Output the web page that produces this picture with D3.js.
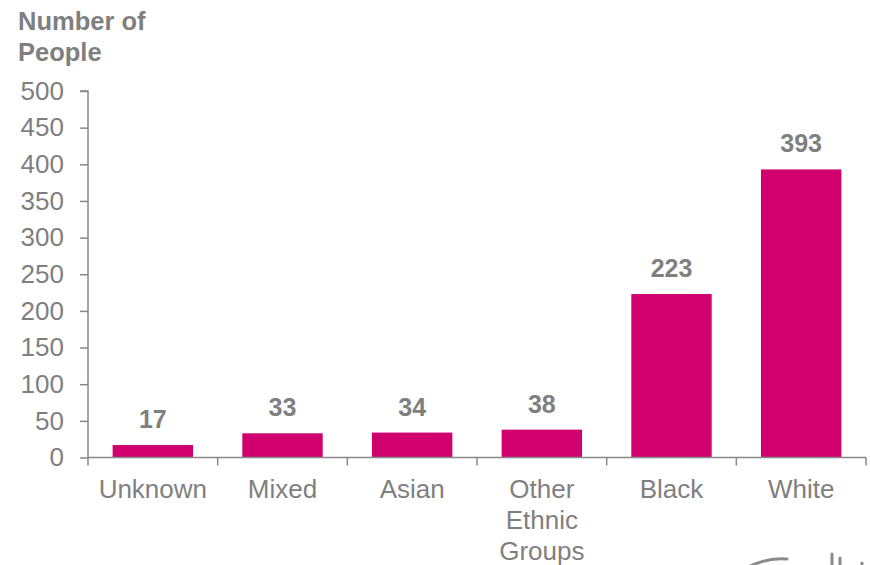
<!DOCTYPE html>
<html><head><meta charset="utf-8">
<script src="https://cdn.jsdelivr.net/npm/d3@7"></script>
<style>body{margin:0;background:#fff}svg{display:block}</style>
</head><body>
<svg id="c" width="870" height="565"></svg>
<script>
const categories = ["Unknown", "Mixed", "Asian", "Other Ethnic Groups", "Black", "White"];
const categoryLines = [["Unknown"], ["Mixed"], ["Asian"], ["Other", "Ethnic", "Groups"], ["Black"], ["White"]];
const values = [17, 33, 34, 38, 223, 393];
const yTicks = [0, 50, 100, 150, 200, 250, 300, 350, 400, 450, 500];

const svg = d3.select("#c");
const gray = "#7f7f7f";
const font = "'Liberation Sans', Arial, sans-serif";
const x = d3.scaleBand().domain(categories).range([88, 866]).paddingInner(0.38).paddingOuter(0.19);
const y = d3.scaleLinear().domain([0, 500]).range([457.5, 91]);

// title
svg.append("text").attr("x", 18).attr("y", 30).attr("font-family", font).attr("font-size", 25.5)
  .attr("font-weight", "bold").attr("fill", gray).text("Number of");
svg.append("text").attr("x", 18).attr("y", 61).attr("font-family", font).attr("font-size", 25.5)
  .attr("font-weight", "bold").attr("fill", gray).text("People");

// bars
svg.selectAll("rect.bar").data(values).enter().append("rect")
  .attr("x", (d, i) => x(categories[i])).attr("width", x.bandwidth())
  .attr("y", d => y(d)).attr("height", d => y(0) - y(d)).attr("fill", "#d0006f");

// value labels
svg.selectAll("text.val").data(values).enter().append("text")
  .attr("x", (d, i) => x(categories[i]) + x.bandwidth() / 2).attr("y", d => y(d) - 17)
  .attr("text-anchor", "middle").attr("font-family", font).attr("font-size", 25)
  .attr("font-weight", "bold").attr("fill", gray).text(d => d);

// y axis
const ya = svg.append("g").attr("transform", "translate(88,0)")
  .call(d3.axisLeft(y).tickValues(yTicks).tickSize(8).tickPadding(16));
ya.selectAll("text").attr("font-family", font).attr("font-size", 26).attr("fill", gray);
ya.selectAll("line").attr("stroke", "#888").attr("stroke-width", 1.5);
ya.select(".domain").attr("stroke", "#888").attr("stroke-width", 1.5).attr("d", "M-8,91H0V457.5");

// x axis
const xa = svg.append("g").attr("transform", "translate(0,457.5)");
xa.append("line").attr("x1", 88).attr("x2", 866).attr("stroke", "#888").attr("stroke-width", 1.5);
const bounds = d3.range(categories.length + 1).map(i => 88 + i * (778 / categories.length));
xa.selectAll("line.tk").data(bounds).enter().append("line")
  .attr("x1", d => d).attr("x2", d => d).attr("y1", 0).attr("y2", 8)
  .attr("stroke", "#888").attr("stroke-width", 1.5);
categories.forEach((c, i) => {
  const t = xa.append("text").attr("x", x(c) + x.bandwidth() / 2).attr("y", 40)
    .attr("text-anchor", "middle").attr("font-family", font).attr("font-size", 26).attr("fill", gray);
  categoryLines[i].forEach((ln, j) => {
    t.append("tspan").attr("x", x(c) + x.bandwidth() / 2).attr("dy", j === 0 ? 0 : 31).text(ln);
  });
});

// partial logo at bottom right
svg.append("path").attr("d", "M750,566 Q770,557 787,559 M832,566 L832,554 M840,566 L840,558 M862,566 L862,563")
  .attr("fill", "none").attr("stroke", "#8a8a8a").attr("stroke-width", 3).attr("stroke-linecap", "round");
</script>
</body></html>
